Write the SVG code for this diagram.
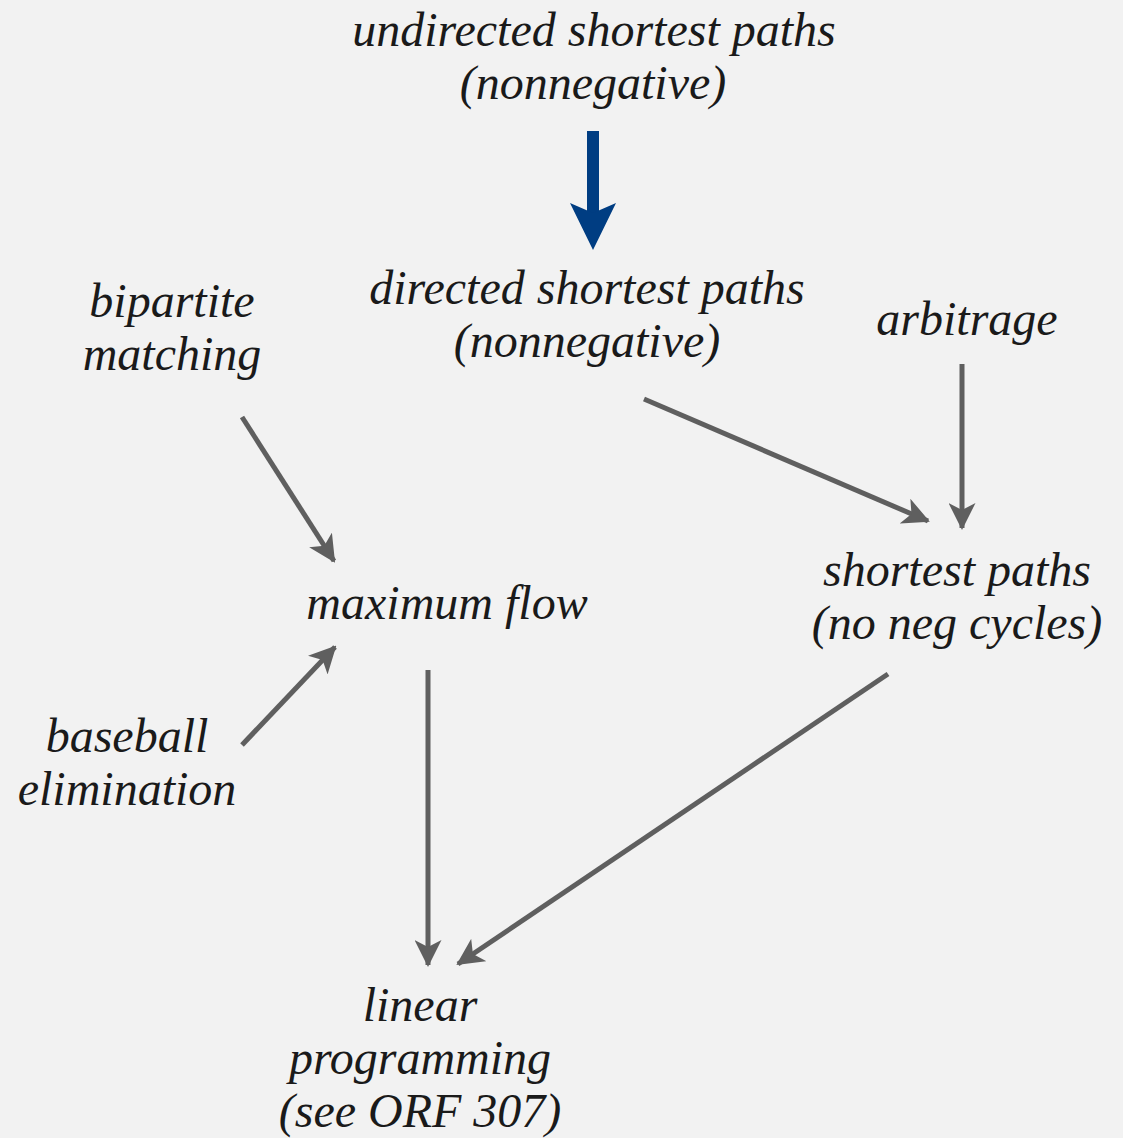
<svg xmlns="http://www.w3.org/2000/svg" width="1123" height="1138" viewBox="0 0 1123 1138">
  <style>
    .edge { stroke: #5f5f5f; stroke-width: 5; fill: none; }
  </style>
  <defs>
    <!-- notched arrowhead shared by all grey connectors -->
    <marker id="head" viewBox="0 0 27 27" refX="25" refY="13.5" markerWidth="27" markerHeight="27" markerUnits="userSpaceOnUse" orient="auto">
      <path d="M0,0 L27,13.5 L0,27 L7,13.5 Z" fill="#5f5f5f"/>
    </marker>
  </defs>
  <rect width="1123" height="1138" fill="#f2f2f2"/>

  <g id="undirected-sp">
    <text x="594" y="46" font-family="Liberation Serif" font-style="italic" font-size="48" fill="#1a1a1a" text-anchor="middle">undirected shortest paths</text>
    <text x="593" y="99" font-family="Liberation Serif" font-style="italic" font-size="48" fill="#1a1a1a" text-anchor="middle">(nonnegative)</text>
  </g>
  <g id="directed-sp">
    <text x="587" y="304" font-family="Liberation Serif" font-style="italic" font-size="48" fill="#1a1a1a" text-anchor="middle">directed shortest paths</text>
    <text x="587" y="357" font-family="Liberation Serif" font-style="italic" font-size="48" fill="#1a1a1a" text-anchor="middle">(nonnegative)</text>
  </g>
  <g id="bipartite">
    <text x="172" y="317" font-family="Liberation Serif" font-style="italic" font-size="48" fill="#1a1a1a" text-anchor="middle">bipartite</text>
    <text x="172" y="370" font-family="Liberation Serif" font-style="italic" font-size="48" fill="#1a1a1a" text-anchor="middle">matching</text>
  </g>
  <g id="arbitrage">
    <text x="967" y="335" font-family="Liberation Serif" font-style="italic" font-size="48" fill="#1a1a1a" text-anchor="middle">arbitrage</text>
  </g>
  <g id="maxflow">
    <text x="447" y="619" font-family="Liberation Serif" font-style="italic" font-size="48" fill="#1a1a1a" text-anchor="middle">maximum flow</text>
  </g>
  <g id="shortest-paths">
    <text x="957" y="586" font-family="Liberation Serif" font-style="italic" font-size="48" fill="#1a1a1a" text-anchor="middle">shortest paths</text>
    <text x="957" y="639" font-family="Liberation Serif" font-style="italic" font-size="48" fill="#1a1a1a" text-anchor="middle">(no neg cycles)</text>
  </g>
  <g id="baseball">
    <text x="127" y="752" font-family="Liberation Serif" font-style="italic" font-size="48" fill="#1a1a1a" text-anchor="middle">baseball</text>
    <text x="127" y="805" font-family="Liberation Serif" font-style="italic" font-size="48" fill="#1a1a1a" text-anchor="middle">elimination</text>
  </g>
  <g id="lp">
    <text x="420" y="1021" font-family="Liberation Serif" font-style="italic" font-size="48" fill="#1a1a1a" text-anchor="middle">linear</text>
    <text x="420" y="1074" font-family="Liberation Serif" font-style="italic" font-size="48" fill="#1a1a1a" text-anchor="middle">programming</text>
    <text x="420" y="1127" font-family="Liberation Serif" font-style="italic" font-size="48" fill="#1a1a1a" text-anchor="middle">(see ORF 307)</text>
  </g>

  <g id="connectors">
    <!-- highlighted reduction -->
    <rect x="587" y="131" width="12" height="82" fill="#003d82"/>
    <path d="M570,203 L593,250 L616,203 L593,213 Z" fill="#003d82"/>
    <line class="edge" x1="242" y1="417" x2="334" y2="561" marker-end="url(#head)"/>
    <line class="edge" x1="644" y1="399" x2="928" y2="521" marker-end="url(#head)"/>
    <line class="edge" x1="962" y1="364" x2="962" y2="528" marker-end="url(#head)"/>
    <line class="edge" x1="242" y1="745" x2="335" y2="647" marker-end="url(#head)"/>
    <line class="edge" x1="428" y1="670" x2="428" y2="965" marker-end="url(#head)"/>
    <line class="edge" x1="888" y1="674" x2="458" y2="964" marker-end="url(#head)"/>
  </g>
</svg>
